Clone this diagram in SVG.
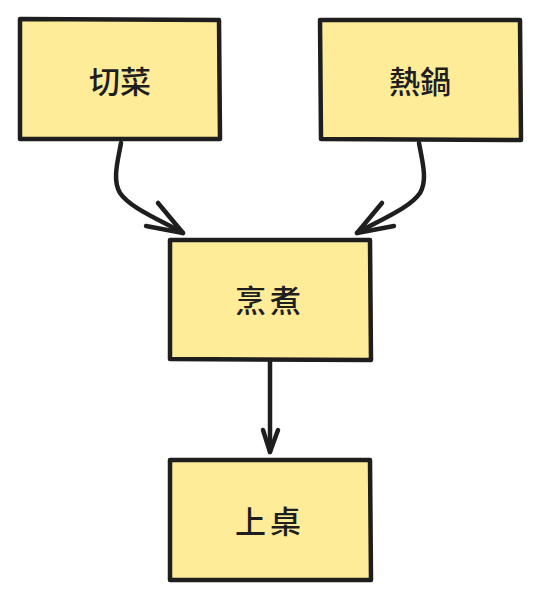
<svg xmlns="http://www.w3.org/2000/svg" width="540" height="600" viewBox="0 0 540 600">
<style>
.box{fill:#ffec99;stroke:#1e1e1e;stroke-width:4.5;stroke-linejoin:round;stroke-linecap:round}
.lbl{font-family:"Noto Sans CJK TC","Noto Sans CJK SC",sans-serif;font-size:31px;font-weight:500;fill:#1e1e1e;text-anchor:middle;dominant-baseline:central}
.edge{fill:none;stroke:#1e1e1e;stroke-width:4.5;stroke-linecap:round;stroke-linejoin:round}
</style>
<rect width="540" height="600" fill="#ffffff"/>
<g id="node-cut">
<path class="box" d="M20 19 L219 20 L220 139 L20 139 Z"/>
<text class="lbl" x="120" y="79">切菜</text>
</g>
<g id="node-heat">
<path class="box" d="M320 20 L520 20 L521 140 L321 139 Z"/>
<text class="lbl" x="420" y="79">熱鍋</text>
</g>
<g id="node-cook">
<path class="box" d="M170 240 L370 240 L371 360 L170 359 Z"/>
<text class="lbl" x="270" y="298" letter-spacing="4">烹煮</text>
</g>
<g id="node-serve">
<path class="box" d="M170 460 L370 460 L371 580 L170 580 Z"/>
<text class="lbl" x="270" y="519" letter-spacing="4">上桌</text>
</g>
<g id="connectors">
<path class="edge" d="M121 143 C118 160 112 180 120 193 C130 208 160 220 183 233"/>
<path class="edge" d="M158 203 L183 233 L146 226"/>
<path class="edge" d="M419 143 C422 160 428 180 420 193 C410 208 380 220 357 233"/>
<path class="edge" d="M382 203 L357 233 L394 226"/>
<path class="edge" d="M270 362 L270 452"/>
<path class="edge" d="M263 430 L270 452 L278 430"/>
</g>
</svg>
